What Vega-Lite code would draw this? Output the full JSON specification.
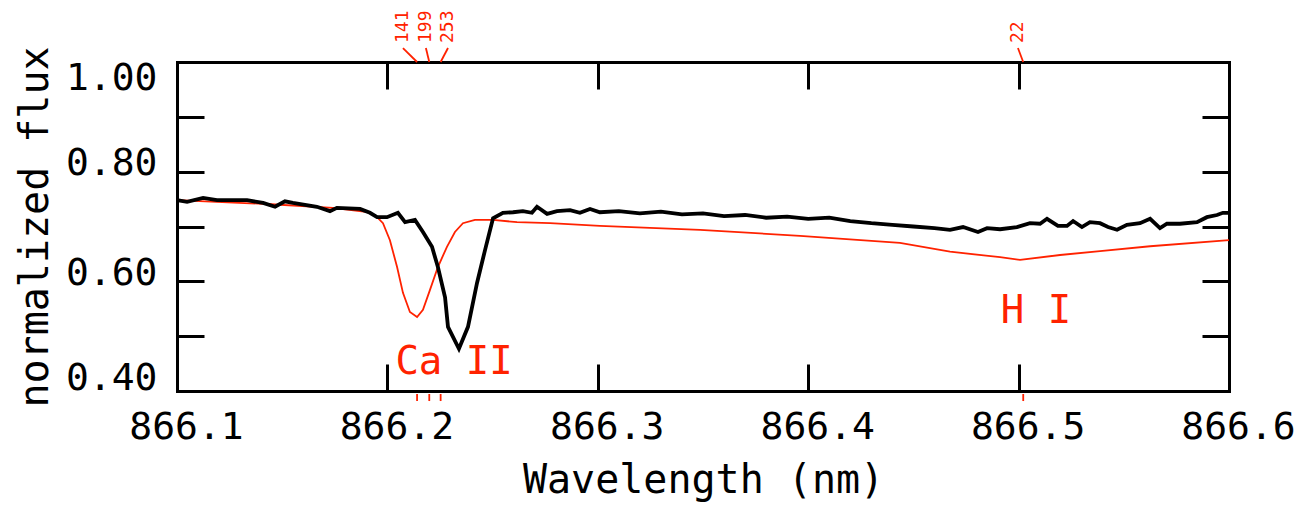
{
  "$schema": "https://vega.github.io/schema/vega-lite/v6.json",
  "width": 1052,
  "height": 329,
  "autosize": {"type": "none"},
  "padding": {"left": 177, "top": 62, "right": 77, "bottom": 116},
  "background": "white",
  "config": {
    "view": {"stroke": null},
    "axis": {
      "domainColor": "black", "domainWidth": 3, "domainCap": "square",
      "tickColor": "black", "tickWidth": 3, "tickSize": -27, "grid": false,
      "labelFont": "DejaVu Sans Mono", "labelFontSize": 38, "labelColor": "black",
      "titleFont": "DejaVu Sans Mono", "titleFontSize": 40, "titleFontWeight": "normal", "titleColor": "black"
    }
  },
  "datasets": {
    "obs": [
      {"wl": 866.1000, "flux": 0.748}, {"wl": 866.1048, "flux": 0.745}, {"wl": 866.1124, "flux": 0.752},
      {"wl": 866.1190, "flux": 0.748}, {"wl": 866.1333, "flux": 0.748}, {"wl": 866.1409, "flux": 0.743},
      {"wl": 866.1466, "flux": 0.736}, {"wl": 866.1513, "flux": 0.746}, {"wl": 866.1551, "flux": 0.743},
      {"wl": 866.1665, "flux": 0.736}, {"wl": 866.1727, "flux": 0.728}, {"wl": 866.1760, "flux": 0.734},
      {"wl": 866.1870, "flux": 0.732}, {"wl": 866.1917, "flux": 0.725}, {"wl": 866.1951, "flux": 0.717},
      {"wl": 866.1998, "flux": 0.717}, {"wl": 866.2050, "flux": 0.725}, {"wl": 866.2084, "flux": 0.708},
      {"wl": 866.2131, "flux": 0.712}, {"wl": 866.2169, "flux": 0.690}, {"wl": 866.2212, "flux": 0.663},
      {"wl": 866.2240, "flux": 0.626}, {"wl": 866.2274, "flux": 0.571}, {"wl": 866.2288, "flux": 0.517},
      {"wl": 866.2340, "flux": 0.477}, {"wl": 866.2383, "flux": 0.517}, {"wl": 866.2426, "flux": 0.597},
      {"wl": 866.2464, "flux": 0.657}, {"wl": 866.2502, "flux": 0.715}, {"wl": 866.2549, "flux": 0.725},
      {"wl": 866.2597, "flux": 0.726}, {"wl": 866.2644, "flux": 0.728}, {"wl": 866.2687, "flux": 0.725},
      {"wl": 866.2711, "flux": 0.736}, {"wl": 866.2759, "flux": 0.723}, {"wl": 866.2806, "flux": 0.728},
      {"wl": 866.2868, "flux": 0.730}, {"wl": 866.2915, "flux": 0.725}, {"wl": 866.2963, "flux": 0.732},
      {"wl": 866.3010, "flux": 0.726}, {"wl": 866.3100, "flux": 0.728}, {"wl": 866.3200, "flux": 0.724},
      {"wl": 866.3300, "flux": 0.727}, {"wl": 866.3400, "flux": 0.722}, {"wl": 866.3500, "flux": 0.724},
      {"wl": 866.3600, "flux": 0.719}, {"wl": 866.3700, "flux": 0.721}, {"wl": 866.3800, "flux": 0.716},
      {"wl": 866.3900, "flux": 0.718}, {"wl": 866.4000, "flux": 0.714}, {"wl": 866.4100, "flux": 0.716},
      {"wl": 866.4200, "flux": 0.710}, {"wl": 866.4300, "flux": 0.706}, {"wl": 866.4400, "flux": 0.703},
      {"wl": 866.4500, "flux": 0.700}, {"wl": 866.4600, "flux": 0.697}, {"wl": 866.4674, "flux": 0.694},
      {"wl": 866.4736, "flux": 0.699}, {"wl": 866.4807, "flux": 0.690}, {"wl": 866.4850, "flux": 0.697},
      {"wl": 866.4912, "flux": 0.695}, {"wl": 866.4992, "flux": 0.699}, {"wl": 866.5054, "flux": 0.706},
      {"wl": 866.5102, "flux": 0.705}, {"wl": 866.5135, "flux": 0.714}, {"wl": 866.5187, "flux": 0.701},
      {"wl": 866.5230, "flux": 0.701}, {"wl": 866.5259, "flux": 0.710}, {"wl": 866.5301, "flux": 0.699},
      {"wl": 866.5339, "flux": 0.708}, {"wl": 866.5387, "flux": 0.706}, {"wl": 866.5425, "flux": 0.699},
      {"wl": 866.5468, "flux": 0.694}, {"wl": 866.5515, "flux": 0.703}, {"wl": 866.5577, "flux": 0.706},
      {"wl": 866.5625, "flux": 0.714}, {"wl": 866.5672, "flux": 0.697}, {"wl": 866.5705, "flux": 0.705},
      {"wl": 866.5767, "flux": 0.705}, {"wl": 866.5848, "flux": 0.708}, {"wl": 866.5895, "flux": 0.717},
      {"wl": 866.5943, "flux": 0.721}, {"wl": 866.5971, "flux": 0.725}, {"wl": 866.6000, "flux": 0.725}
    ],
    "model": [
      {"wl": 866.1000, "flux": 0.748}, {"wl": 866.1428, "flux": 0.741}, {"wl": 866.1741, "flux": 0.734},
      {"wl": 866.1917, "flux": 0.726}, {"wl": 866.1951, "flux": 0.717}, {"wl": 866.1979, "flux": 0.706},
      {"wl": 866.2012, "flux": 0.675}, {"wl": 866.2046, "flux": 0.626}, {"wl": 866.2074, "flux": 0.579},
      {"wl": 866.2107, "flux": 0.544}, {"wl": 866.2141, "flux": 0.535}, {"wl": 866.2169, "flux": 0.548},
      {"wl": 866.2202, "flux": 0.584}, {"wl": 866.2240, "flux": 0.626}, {"wl": 866.2283, "flux": 0.663},
      {"wl": 866.2321, "flux": 0.690}, {"wl": 866.2359, "flux": 0.706}, {"wl": 866.2416, "flux": 0.712},
      {"wl": 866.2502, "flux": 0.712}, {"wl": 866.2616, "flux": 0.708}, {"wl": 866.2773, "flux": 0.706},
      {"wl": 866.3010, "flux": 0.701}, {"wl": 866.3486, "flux": 0.694}, {"wl": 866.3961, "flux": 0.683},
      {"wl": 866.4436, "flux": 0.670}, {"wl": 866.4674, "flux": 0.654}, {"wl": 866.4912, "flux": 0.644},
      {"wl": 866.5007, "flux": 0.639}, {"wl": 866.5197, "flux": 0.648}, {"wl": 866.5387, "flux": 0.655},
      {"wl": 866.5625, "flux": 0.664}, {"wl": 866.6000, "flux": 0.675}
    ],
    "lines": [
      {"wl": 866.2141, "lx": 866.2074, "label": "141"},
      {"wl": 866.2199, "lx": 866.2183, "label": "199"},
      {"wl": 866.2253, "lx": 866.2288, "label": "253"},
      {"wl": 866.5022, "lx": 866.4997, "label": "22"}
    ],
    "ions": [
      {"wl": 866.2317, "flux": 0.431, "label": "Ca II"},
      {"wl": 866.5083, "flux": 0.524, "label": "H I"}
    ]
  },
  "layer": [
    {
      "data": {"name": "model"},
      "mark": {"type": "line", "color": "#ff2200", "strokeWidth": 1.8},
      "encoding": {
        "x": {"field": "wl", "type": "quantitative", "scale": {"domain": [866.1, 866.6], "nice": false, "zero": false},
              "axis": {"orient": "top", "values": [866.1, 866.2, 866.3, 866.4, 866.5, 866.6], "labels": false, "title": null}},
        "y": {"field": "flux", "type": "quantitative", "scale": {"domain": [0.4, 1.0], "nice": false, "zero": false},
              "axis": {"orient": "right", "values": [0.4, 0.5, 0.6, 0.7, 0.8, 0.9, 1.0], "labels": false, "title": null}}
      }
    },
    {
      "data": {"name": "obs"},
      "mark": {"type": "line", "color": "black", "strokeWidth": 3.8},
      "encoding": {
        "x": {"field": "wl", "type": "quantitative",
              "axis": {"orient": "bottom", "values": [866.1, 866.2, 866.3, 866.4, 866.5, 866.6], "format": ".1f",
                       "labelPadding": 44, "labelOffset": 9, "labelBaseline": "top", "labelFlush": false,
                       "title": "Wavelength (nm)", "titleX": 526, "titleY": 101, "titleAlign": "center", "titleBaseline": "alphabetic"}},
        "y": {"field": "flux", "type": "quantitative",
              "axis": {"orient": "left", "values": [0.4, 0.5, 0.6, 0.7, 0.8, 0.9, 1.0], "format": ".2f",
                       "labelExpr": "round(datum.value*10) % 2 == 0 ? datum.label : ''",
                       "labelPadding": 47, "labelFlush": true, "labelFlushOffset": 0,
                       "labelOffset": {"condition": [{"test": "datum.value > 0.95", "value": -3}, {"test": "datum.value < 0.45", "value": 6}], "value": -8},
                       "title": "normalized flux", "titleX": -130, "titleY": 164.5, "titleAngle": 270,
                       "titleAlign": "center", "titleBaseline": "alphabetic"}}
      }
    },
    {
      "data": {"name": "lines"},
      "mark": {"type": "rule", "color": "#ff2200", "strokeWidth": 1.8, "clip": false},
      "encoding": {
        "x": {"field": "lx", "type": "quantitative", "axis": null},
        "x2": {"field": "wl"},
        "y": {"datum": 1.0255, "type": "quantitative", "axis": null},
        "y2": {"datum": 1.0}
      }
    },
    {
      "data": {"name": "lines"},
      "mark": {"type": "rule", "color": "#ff2200", "strokeWidth": 1.8, "clip": false},
      "encoding": {
        "x": {"field": "wl", "type": "quantitative", "axis": null},
        "y": {"datum": 0.3945, "type": "quantitative", "axis": null},
        "y2": {"datum": 0.3817}
      }
    },
    {
      "data": {"name": "lines"},
      "mark": {"type": "text", "color": "#ff2200", "font": "DejaVu Sans Mono", "fontSize": 18, "angle": 270, "align": "left", "baseline": "middle", "clip": false},
      "encoding": {
        "x": {"field": "lx", "type": "quantitative", "axis": null},
        "y": {"datum": 1.0347, "type": "quantitative", "axis": null},
        "text": {"field": "label"}
      }
    },
    {
      "data": {"name": "ions"},
      "mark": {"type": "text", "color": "#ff2200", "font": "DejaVu Sans Mono", "fontSize": 39, "align": "center", "baseline": "alphabetic", "clip": false},
      "encoding": {
        "x": {"field": "wl", "type": "quantitative", "axis": null},
        "y": {"field": "flux", "type": "quantitative", "axis": null},
        "text": {"field": "label"}
      }
    }
  ],
  "resolve": {"axis": {"x": "independent", "y": "independent"}}
}
